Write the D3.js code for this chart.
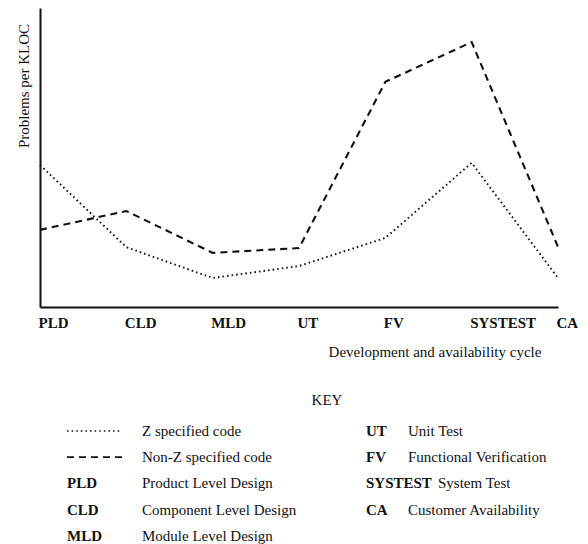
<!DOCTYPE html>
<html>
<head>
<meta charset="utf-8">
<script src="https://cdn.jsdelivr.net/npm/d3@7"></script>
<style>
body{margin:0;background:#fff;}
</style>
</head>
<body>
<script>
// stages of the cycle and what the abbreviations stand for
let stages=["PLD","CLD","MLD","UT","FV","SYSTEST","CA"];
let stageNames=["Product Level Design","Component Level Design","Module Level Design","Unit Test","Functional Verification","System Test","Customer Availability"];

// problems per KLOC (no scale printed, relative units)
let zCode=[4.75,2.0,0.97,1.37,2.31,4.82,0.97];
let nonZCode=[2.58,3.21,1.81,1.97,7.53,8.86,2.01];

let serif="Liberation Serif, Times New Roman, serif";
let w=588,h=544;
let svg=d3.select("body").append("svg").attr("width",w).attr("height",h)
  .attr("font-family",serif).attr("font-size",15);

let xScale=d3.scalePoint().domain(stages).range([40,558]);
let yScale=d3.scaleLinear().domain([0,10]).range([307,8]);

// axes: no tick marks, just the lines and the stage labels
let xAxis=d3.axisBottom(xScale).tickSize(0).tickSizeOuter(0);
let gx=svg.append("g").attr("transform","translate(0,307)").call(xAxis)
  .attr("font-family",serif).attr("font-size",15).attr("font-weight","bold");
gx.select(".domain").attr("stroke","#111").attr("stroke-width",2);
gx.selectAll("text").attr("y",21).attr("dy",0).attr("dx",-2).style("text-anchor","start").attr("fill","#111");

let yAxis=d3.axisLeft(yScale).ticks(0).tickSize(0).tickSizeOuter(0);
let gy=svg.append("g").attr("transform","translate(40,0)").call(yAxis);
gy.select(".domain").attr("stroke","#111").attr("stroke-width",2);
gy.selectAll(".tick").remove();

svg.append("text").attr("transform","translate(29,86) rotate(-90)").attr("text-anchor","middle")
  .attr("fill","#111").text("Problems per KLOC");
svg.append("text").attr("x",435).attr("y",357).attr("text-anchor","middle")
  .attr("fill","#111").text("Development and availability cycle");

let line=d3.line().x((d,i)=>xScale(stages[i])).y(d=>yScale(d));
let series=[
  {name:"Z specified code",vals:zCode,dash:"1.6,3",sw:1.9},
  {name:"Non-Z specified code",vals:nonZCode,dash:"7,5",sw:2.1}
];
svg.selectAll(".series").data(series).enter().append("path").attr("class","series")
  .attr("d",d=>line(d.vals)).attr("fill","none").attr("stroke","#111")
  .attr("stroke-width",d=>d.sw).attr("stroke-dasharray",d=>d.dash);

// key
svg.append("text").attr("x",327).attr("y",405).attr("text-anchor","middle")
  .attr("fill","#111").text("KEY");

let rowY=i=>436+26.2*i;
let key=svg.append("g").attr("fill","#111");
series.forEach((s,i)=>{
  key.append("line").attr("x1",67).attr("x2",122).attr("y1",rowY(i)-5).attr("y2",rowY(i)-5)
    .attr("stroke","#111").attr("stroke-width",s.sw*0.8).attr("stroke-dasharray",s.dash);
  key.append("text").attr("x",142).attr("y",rowY(i)).text(s.name);
});
stages.forEach((st,i)=>{
  let left=i<3;
  let row=left?i+2:i-3;
  key.append("text").attr("x",left?67:366).attr("y",rowY(row))
    .attr("font-weight","bold").text(st);
  key.append("text").attr("x",left?142:(st=="SYSTEST"?438:408)).attr("y",rowY(row))
    .text(stageNames[i]);
});
</script>
</body>
</html>
